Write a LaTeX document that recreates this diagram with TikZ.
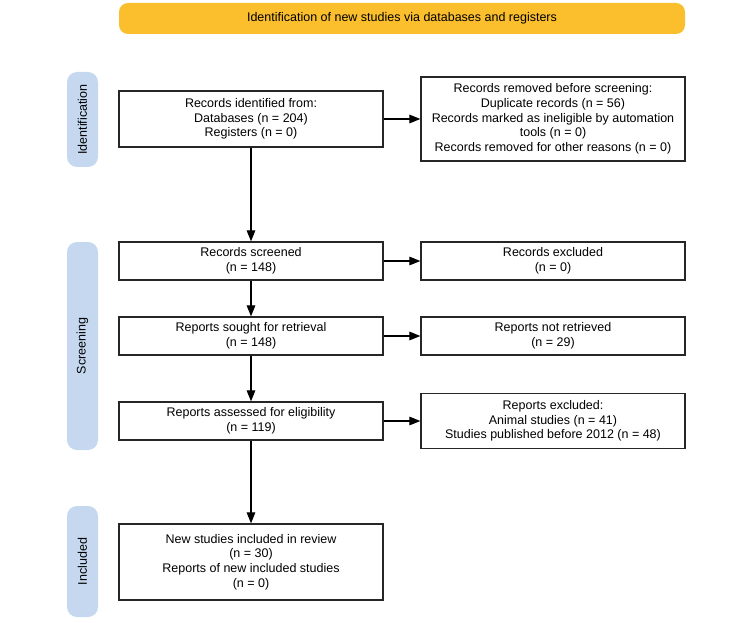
\documentclass[tikz,border=0pt]{standalone}
\usepackage{fontspec}
\setmainfont{Liberation Sans}
\usetikzlibrary{arrows.meta}
\definecolor{headyellow}{RGB}{251,191,45}
\definecolor{phaseblue}{RGB}{197,216,240}
\newcommand{\flowfont}{\fontsize{12.5}{14.7}\selectfont}
\begin{document}
\begin{tikzpicture}[x=1pt, y=-1pt, >={Triangle[length=11pt,width=8.5pt]}]
	\tikzstyle{box} = [draw=black!85, line width=1.2pt, minimum width=264pt, inner sep=0pt, align=center, font=\flowfont]
	\tikzstyle{phase} = [fill=phaseblue, rounded corners=10pt, rotate=90, minimum height=31pt, inner sep=0pt, font=\flowfont]
	\tikzstyle{banner} = [fill=headyellow, rounded corners=9pt, minimum width=566pt, minimum height=31pt, inner sep=0pt, font=\flowfont]

	\useasboundingbox (0,0) rectangle (750,623);

	% header and phases
	\node[banner] (head) at (402,18.5) {Identification of new studies via databases and registers};
	\node[phase, minimum width=95pt] (pident) at (82.5,119.5) {Identification};
	\node[phase, minimum width=208pt] (pscreen) at (82.5,346) {Screening};
	\node[phase, minimum width=111pt] (pincl) at (82.5,561.5) {Included};

	\path[->, line width=1.1pt]

	node[box, minimum height=56pt] (ident) at (251,119) {Records identified from:\\Databases (n = 204)\\Registers (n = 0)}
	node[box, minimum height=84pt] (removed) at (553,119) {Records removed before screening:\\Duplicate records (n = 56)\\Records marked as ineligible by automation\\tools (n = 0)\\Records removed for other reasons (n = 0)}
	node[box, minimum height=38pt] (screened) at (251,261) {Records screened\\(n = 148)}
	node[box, minimum height=38pt] (excluded) at (553,261) {Records excluded\\(n = 0)}
	node[box, minimum height=38pt] (sought) at (251,336) {Reports sought for retrieval\\(n = 148)}
	node[box, minimum height=38pt] (notret) at (553,336) {Reports not retrieved\\(n = 29)}
	node[box, minimum height=38pt] (assessed) at (251,421) {Reports assessed for eligibility\\(n = 119)}
	node[box, minimum height=55pt] (repexcl) at (553,421) {Reports excluded:\\Animal studies (n = 41)\\Studies published before 2012 (n = 48)}
	node[box, minimum height=76pt] (incl) at (251,562) {New studies included in review\\(n = 30)\\Reports of new included studies\\(n = 0)}

	(ident) edge (removed)
	(ident) edge (screened)
	(screened) edge (excluded)
	(screened) edge (sought)
	(sought) edge (notret)
	(sought) edge (assessed)
	(assessed) edge (repexcl)
	(assessed) edge (incl)
	;

\end{tikzpicture}
\end{document}
